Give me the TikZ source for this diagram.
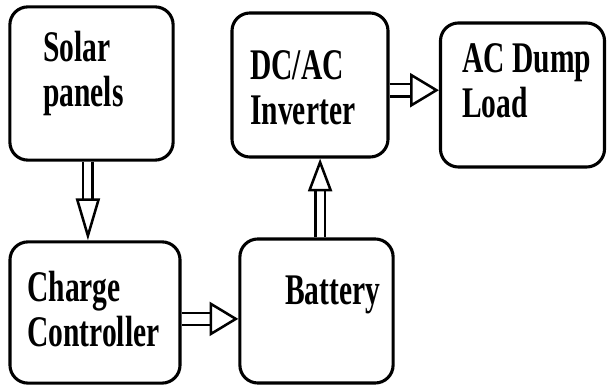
\documentclass[tikz,border=0pt]{standalone}
\usepackage{fontspec}
\setmainfont{Liberation Serif}
\usetikzlibrary{arrows.meta,positioning}

\newcommand{\boxtext}[1]{\scalebox{1}[1.48]{\begin{tabular}[t]{@{}l@{}}#1\end{tabular}}}

\tikzset{
    block/.style={draw, line width=2.2pt, rounded corners=0.45cm},
    boxlabel/.style={anchor=base west, inner sep=0pt,
        font=\fontsize{21}{21.6}\selectfont\bfseries},
    flow/.style={double, line width=1.8pt, double distance=0.24cm,
        -{Triangle[open, length=0.72cm, width=0.85cm, line width=1.8pt]}},
    upflow/.style={double, line width=1.8pt, double distance=0.17cm,
        -{Triangle[open, length=#1, width=0.6cm, line width=1.8pt]}}
}

\begin{document}
\begin{tikzpicture}[x=0.025cm, y=-0.025cm]
    \useasboundingbox (0,0) rectangle (608,386);
    \node[block, minimum width=4.08cm, minimum height=3.83cm]
        (solar) at (91.5,83.5) {};
    \node[block, minimum width=4.25cm, minimum height=3.53cm]
        (charge) at (95,312.5) {};
    \node[block, minimum width=3.83cm, minimum height=3.6cm]
        (battery) at (316.5,311) {};
    \node[block, minimum width=3.9cm, minimum height=3.6cm]
        (inverter) at (310,85) {};
    \node[block, minimum width=4.1cm, minimum height=3.6cm]
        (dump) at (522.5,95) {};

    \node[boxlabel] (solartext) at (43,62) {\boxtext{Solar\\panels}};
    \node[boxlabel] (chargetext) at (27,302) {\boxtext{Charge\\Controller}};
    \node[boxlabel] (batterytext) at (285,305) {\boxtext{Battery}};
    \node[boxlabel] (invertertext) at (250,80) {\boxtext{DC/AC\\Inverter}};
    \node[boxlabel] (dumptext) at (462,73) {\boxtext{AC Dump\\Load}};

    \draw[upflow=1.05cm] ([xshift=-0.09cm]solar.south)
        -- ([xshift=-0.09cm]solar.south |- charge.north);
    \draw[flow] ([yshift=-0.16cm]charge.east)
        -- ([yshift=-0.16cm]charge.east -| battery.west);
    \draw[upflow=0.82cm] ([xshift=0.09cm]battery.north)
        -- ([xshift=0.09cm]battery.north |- inverter.south);
    \draw[flow] ([yshift=-0.13cm]inverter.east)
        -- ([yshift=-0.13cm]inverter.east -| dump.west);
\end{tikzpicture}
\end{document}
